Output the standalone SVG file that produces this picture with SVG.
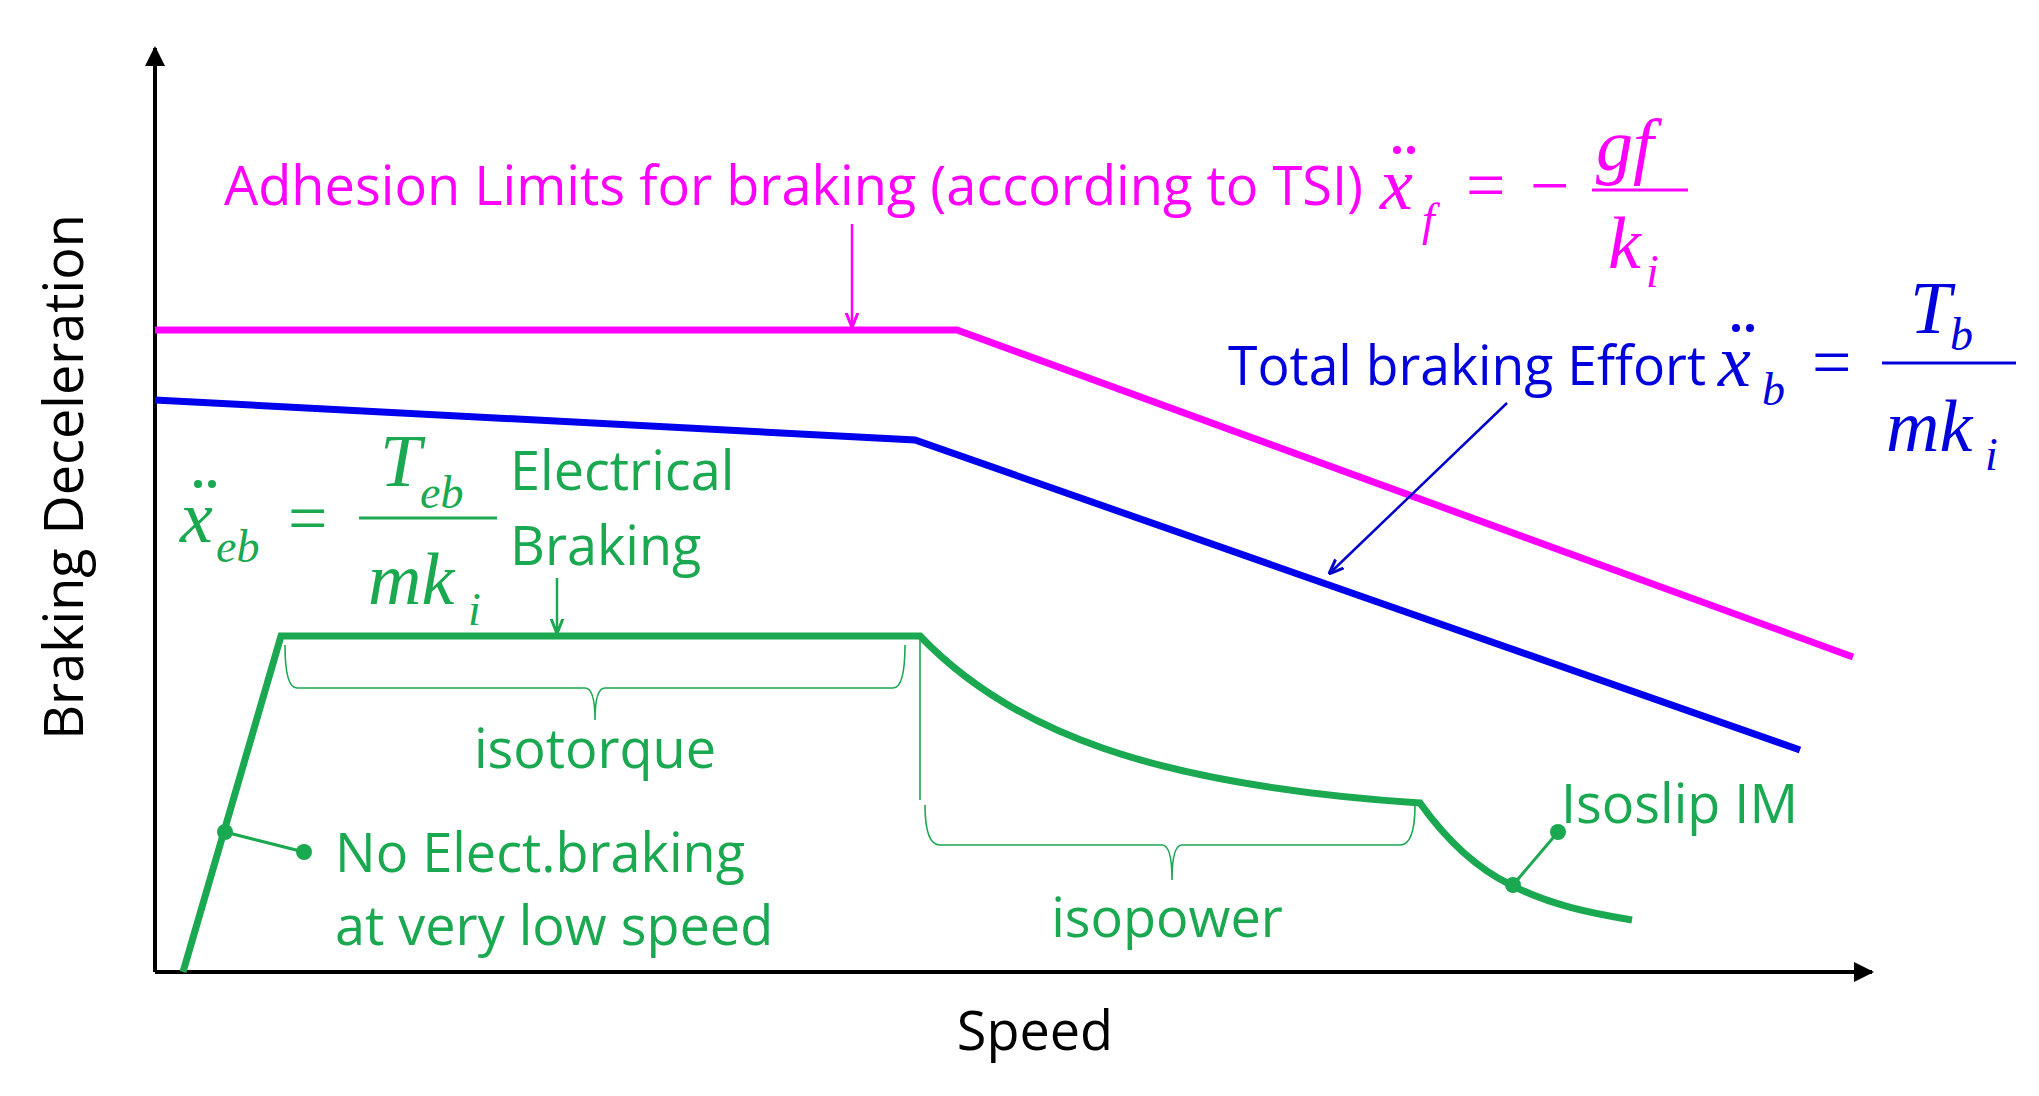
<svg xmlns="http://www.w3.org/2000/svg" width="2039" height="1096" viewBox="0 0 2039 1096">
<defs>
<marker id="ah" viewBox="0 0 10 10" refX="9" refY="5" markerWidth="5" markerHeight="5" orient="auto"><path d="M0,0L10,5L0,10z" fill="#000"/></marker>
<marker id="am" viewBox="0 0 10 10" refX="9" refY="5" markerWidth="6" markerHeight="6" orient="auto"><path d="M0,1L10,5L0,9" fill="none" stroke="#f0f" stroke-width="2"/></marker>
<marker id="ab" viewBox="0 0 10 10" refX="9" refY="5" markerWidth="6" markerHeight="6" orient="auto"><path d="M0,1L10,5L0,9" fill="none" stroke="#0000cc" stroke-width="2"/></marker>
<marker id="ag" viewBox="0 0 10 10" refX="9" refY="5" markerWidth="6" markerHeight="6" orient="auto"><path d="M0,1L10,5L0,9" fill="none" stroke="#1aa850" stroke-width="2"/></marker>
</defs>
<style>
.t{font-family:"Open Sans","Liberation Sans",sans-serif;font-size:54px}
.m{font-family:"Liberation Serif",serif;font-style:italic;font-size:74px}
.s{font-family:"Liberation Serif",serif;font-style:italic;font-size:46px}
.e{font-family:"Liberation Serif",serif;font-size:70px}
.mag{fill:#f0f}.blu{fill:#0000dd}.grn{fill:#1aa850}
</style>
<rect width="2039" height="1096" fill="#fff"/>
<g id="axes" stroke="#000" stroke-width="4" fill="none">
<line x1="155" y1="972" x2="155" y2="48" marker-end="url(#ah)"/>
<line x1="155" y1="972" x2="1872" y2="972" marker-end="url(#ah)"/>
</g>
<g id="connectors" fill="none">
<polyline points="155,330 957,330 1853,657" stroke="#f0f" stroke-width="7"/>
<polyline points="155,400 915,440 1800,750" stroke="#0000ee" stroke-width="7"/>
<path d="M183,972 L281,636 L920,636 C1010,730 1150,785 1420,803 C1450,845 1480,870 1511,885 C1550,905 1590,913 1632,920" stroke="#1aa850" stroke-width="7"/>
<line x1="852" y1="224" x2="852" y2="326" stroke="#f0f" stroke-width="2.5" marker-end="url(#am)"/>
<line x1="1507" y1="403" x2="1330" y2="573" stroke="#0000cc" stroke-width="2.5" marker-end="url(#ab)"/>
<line x1="557" y1="578" x2="557" y2="632" stroke="#1aa850" stroke-width="2.5" marker-end="url(#ag)"/>
<polyline points="225,832 304,852" stroke="#1aa850" stroke-width="3"/>
<circle cx="225" cy="832" r="8" fill="#1aa850"/><circle cx="304" cy="852" r="8" fill="#1aa850"/>
<polyline points="1513,885 1558,832" stroke="#1aa850" stroke-width="3"/>
<circle cx="1513" cy="885" r="8" fill="#1aa850"/><circle cx="1558" cy="832" r="8" fill="#1aa850"/>
<path d="M285,645 Q285,688 297,688 L585,688 Q595,688 595,720 Q595,688 605,688 L893,688 Q905,688 905,645" stroke="#1aa850" stroke-width="1.6"/>
<line x1="920" y1="640" x2="920" y2="800" stroke="#1aa850" stroke-width="1.6"/>
<path d="M925,805 Q925,845 940,845 L1162,845 Q1172,845 1172,880 Q1172,845 1182,845 L1400,845 Q1415,845 1415,805" stroke="#1aa850" stroke-width="1.6"/>
</g>
<g id="adhesion">
<text class="t mag" x="224" y="205" textLength="1139" lengthAdjust="spacingAndGlyphs">Adhesion Limits for braking (according to TSI)</text>
<text class="m mag" x="1380" y="209">x</text>
<circle cx="1397" cy="150" r="4" fill="#f0f"/><circle cx="1411" cy="150" r="4" fill="#f0f"/>
<text class="s mag" x="1422" y="235">f</text>
<text class="e mag" x="1466" y="209">=</text><text class="e mag" x="1530" y="209">−</text>
<text class="m mag" x="1596" y="170">gf</text>
<line x1="1592" y1="190" x2="1688" y2="190" stroke="#f0f" stroke-width="3"/>
<text class="m mag" x="1608" y="268">k</text><text class="s mag" x="1646" y="287">i</text>
</g>
<g id="total">
<text class="t blu" x="1228" y="385" textLength="478" lengthAdjust="spacingAndGlyphs">Total braking Effort</text>
<text class="m blu" x="1718" y="386">x</text>
<circle cx="1736" cy="328" r="4" fill="#0000dd"/><circle cx="1750" cy="328" r="4" fill="#0000dd"/>
<text class="s blu" x="1762" y="405">b</text>
<text class="e blu" x="1812" y="386">=</text>
<text class="m blu" x="1910" y="333">T</text><text class="s blu" x="1950" y="350">b</text>
<line x1="1882" y1="363" x2="2016" y2="363" stroke="#0000dd" stroke-width="3"/>
<text class="m blu" x="1886" y="451">mk</text><text class="s blu" x="1985" y="470">i</text>
</g>
<g id="electrical">
<text class="m grn" x="180" y="542">x</text>
<circle cx="198" cy="484" r="4" fill="#1aa850"/><circle cx="212" cy="484" r="4" fill="#1aa850"/>
<text class="s grn" x="216" y="562">eb</text>
<text class="e grn" x="288" y="542">=</text>
<text class="m grn" x="380" y="486">T</text><text class="s grn" x="420" y="508">eb</text>
<line x1="359" y1="518" x2="497" y2="518" stroke="#1aa850" stroke-width="3"/>
<text class="m grn" x="368" y="604">mk</text><text class="s grn" x="468" y="625">i</text>
<text class="t grn" x="510" y="490">Electrical</text>
<text class="t grn" x="510" y="565">Braking</text>
</g>
<g id="labels">
<text class="t grn" x="595" y="768" text-anchor="middle">isotorque</text>
<text class="t grn" x="1167" y="937" text-anchor="middle">isopower</text>
<text class="t grn" x="335" y="872">No Elect.braking</text>
<text class="t grn" x="335" y="945">at very low speed</text>
<text class="t grn" x="1561" y="823">Isoslip IM</text>
<text class="t" x="1035" y="1050" text-anchor="middle" font-size="66" fill="#000">Speed</text>
<text class="t" transform="translate(83,477) rotate(-90)" text-anchor="middle" font-size="70" fill="#000">Braking Deceleration</text>
</g>
</svg>
